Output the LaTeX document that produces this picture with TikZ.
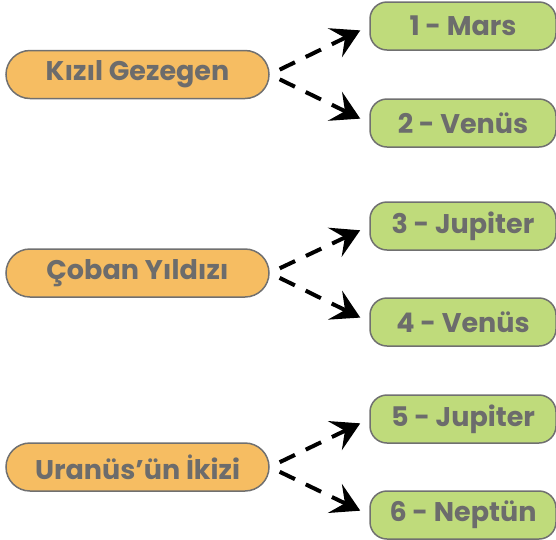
\documentclass[tikz,border=0pt]{standalone}
\usepackage{fontspec}
\setmainfont{Poppins}
\usepackage{xcolor}
\usepackage{tikz}
\usetikzlibrary{arrows.meta}

\definecolor{turuncu}{RGB}{246,189,98}
\definecolor{yesil}{RGB}{191,219,123}
\definecolor{kenar}{RGB}{112,112,112}
\definecolor{yazi}{RGB}{108,108,108}

\tikzset{
    soru/.style = {draw = kenar, line width = 1.5pt, fill = turuncu, rounded corners = 24pt,
        minimum width = 263pt, minimum height = 48pt, inner sep = 0pt,
        text = yazi, font = \fontsize{27}{30}\selectfont\bfseries},
    cevap/.style = {draw = kenar, line width = 1.5pt, fill = yesil, rounded corners = 17pt,
        minimum width = 186pt, minimum height = 48pt, inner sep = 0pt,
        text = yazi, font = \fontsize{27}{30}\selectfont\bfseries},
    ok/.style = {line width = 4pt, dash pattern = on 17pt off 12pt,
        -{Stealth[length = 28pt, width = 32pt, inset = 11pt]},
        shorten < = 11pt, shorten > = 10pt}
}

\begin{document}
\begin{tikzpicture}[x = 1pt, y = -1pt]
        \useasboundingbox (0, 0) rectangle (556, 539);

        \node[soru] (kizil) at (137.5, 74.5) {Kızıl Gezegen};
        \node[cevap] (mars) at (463, 26) {1 - Mars};
        \node[cevap] (venus) at (463, 123) {2 - Venüs};

        \node[soru] (coban) at (137.5, 273) {Çoban Yıldızı};
        \node[cevap] (jupiter) at (463, 226) {3 - Jupiter};
        \node[cevap] (venusiki) at (463, 322) {4 - Venüs};

        \node[soru] (uranus) at (137.5, 467) {Uranüs’ün İkizi};
        \node[cevap] (jupiteriki) at (463, 419) {5 - Jupiter};
        \node[cevap] (neptun) at (463, 515) {6 - Neptün};

        \draw[ok] (kizil.east) -- (mars.west);
        \draw[ok] (kizil.east) -- (venus.west);
        \draw[ok] (coban.east) -- (jupiter.west);
        \draw[ok] (coban.east) -- (venusiki.west);
        \draw[ok] (uranus.east) -- (jupiteriki.west);
        \draw[ok] (uranus.east) -- (neptun.west);
    \end{tikzpicture}
\end{document}
